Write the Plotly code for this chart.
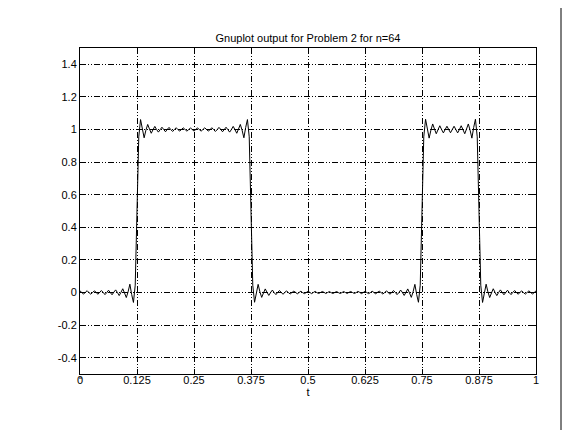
import numpy as np
import plotly.graph_objects as go

# sample grid: 257 samples over [0, 1]
t = np.linspace(0.0, 1.0, 257)

# values, segment by segment
seg_a = [0.010, 0.000, -0.010, 0.001, 0.011, 0.000, -0.010, -0.001, 0.010, 0.002,
         -0.011, 0.000, 0.012, 0.001, -0.013, -0.001, 0.014, 0.000, -0.014, 0.002,
         0.016, 0.000, -0.019, 0.001, 0.023, -0.003, -0.031, 0.004, 0.051, -0.012,
         -0.061, 0.045]
jump1 = [0.500]
seg_b = [0.955, 1.061, 1.012, 0.949, 0.996, 1.031, 1.003, 0.977, 0.999, 1.019,
         1.000, 0.984, 0.999, 1.014, 1.000, 0.986, 1.001, 1.013, 0.999, 0.988,
         1.000, 1.011, 0.999, 0.990, 1.001, 1.010, 1.000, 0.990, 0.999, 1.010,
         1.000, 0.990, 1.000, 1.010, 0.999, 0.990, 1.000, 1.010, 1.001, 0.990,
         0.999, 1.011, 1.000, 0.988, 0.999, 1.013, 1.001, 0.986, 1.000, 1.014,
         0.999, 0.984, 1.000, 1.019, 0.999, 0.977, 1.003, 1.031, 0.996, 0.949,
         1.012, 1.061, 0.955]
jump2 = [0.500]
seg_c = [0.045, -0.060, -0.012, 0.050, 0.004, -0.030, -0.003, 0.022, 0.001, -0.018,
         0.000, 0.015, -0.001, -0.013, 0.001, 0.012, 0.000, -0.011, 0.001, 0.010,
         -0.001, -0.009, 0.000, 0.008, 0.001, -0.008, 0.000, 0.008, -0.001, -0.007,
         0.000, 0.007, 0.001, -0.007, 0.000, 0.007, -0.001, -0.006, 0.000, 0.006,
         0.001, -0.006, 0.000, 0.006, -0.001, -0.006, 0.000, 0.006, 0.000, -0.006,
         -0.001, 0.006, 0.000, -0.006, 0.001, 0.006, 0.000, -0.006, -0.001, 0.007,
         0.001, -0.007, 0.000, 0.007, 0.000, -0.007, -0.001, 0.008, 0.000, -0.008,
         0.001, 0.008, 0.000, -0.009, -0.001, 0.010, 0.001, -0.011, 0.000, 0.012,
         0.001, -0.013, -0.001, 0.015, 0.000, -0.018, 0.001, 0.022, -0.003, -0.030,
         0.004, 0.050, -0.012, -0.060, 0.045]
jump3 = [0.500]
seg_d = [0.955, 1.063, 1.012, 0.947, 0.996, 1.034, 1.003, 0.974, 0.999, 1.023,
         1.000, 0.979, 1.000, 1.020, 1.000, 0.980, 1.000, 1.020, 1.000, 0.979,
         1.000, 1.023, 0.999, 0.974, 1.003, 1.034, 0.996, 0.947, 1.012, 1.063,
         0.955]
jump4 = [0.500]
seg_e = [0.045, -0.061, -0.012, 0.051, 0.004, -0.031, -0.003, 0.023, 0.001, -0.019,
         0.000, 0.016, 0.001, -0.014, 0.000, 0.014, -0.001, -0.013, 0.001, 0.012,
         0.000, -0.011, 0.001, 0.010, -0.001, -0.010, 0.000, 0.010, 0.001, -0.010,
         0.000, 0.010]

y = seg_a + jump1 + seg_b + jump2 + seg_c + jump3 + seg_d + jump4 + seg_e

x_tickvals = [0, 0.125, 0.25, 0.375, 0.5, 0.625, 0.75, 0.875, 1]
x_ticktext = ["0", "0.125", "0.25", "0.375", "0.5", "0.625", "0.75", "0.875", "1"]
y_tickvals = [-0.4, -0.2, 0, 0.2, 0.4, 0.6, 0.8, 1.0, 1.2, 1.4]
y_ticktext = ["-0.4", "-0.2", "0", "0.2", "0.4", "0.6", "0.8", "1", "1.2", "1.4"]

FONT = "Liberation Sans, Arial, sans-serif"
DASH = "6px,2px,1px,2px,1px,2px"

fig = go.Figure()
fig.add_trace(go.Scatter(x=t, y=y, mode="lines",
                         line=dict(color="black", width=1), hoverinfo="skip"))

axis_common = dict(
    showgrid=True, gridcolor="black", gridwidth=1, griddash=DASH,
    ticks="inside", ticklen=5, tickcolor="black", tickwidth=1,
    showline=True, linecolor="black", linewidth=1, mirror="ticks",
    zeroline=False, tickfont=dict(family=FONT, size=11, color="black"),
)

# page has an 8px body margin: figure is placed at (8, 8); keep it inside the
# window so that no scrollbar appears
W, H = 562, 422
fig.update_layout(
    width=W, height=H,
    margin=dict(l=72, r=34, t=40, b=56),
    paper_bgcolor="white", plot_bgcolor="white",
    showlegend=False,
    title=dict(text="Gnuplot output for Problem 2 for n=64",
               font=dict(family=FONT, size=11, color="black"),
               x=300 / W, xanchor="center", y=1 - 30 / H, yanchor="middle"),
    xaxis=dict(range=[0, 1], tickvals=x_tickvals, ticktext=x_ticktext,
               ticklabelstandoff=-4,
               title=dict(text="t", font=dict(family=FONT, size=11, color="black"),
                          standoff=0),
               **axis_common),
    yaxis=dict(range=[-0.5, 1.5], tickvals=y_tickvals, ticktext=y_ticktext,
               **axis_common),
)

# frame artifacts of the original window (right border line, small corner dash)
fig.add_shape(type="line", xref="paper", yref="paper",
              x0=(561 - 80) / 456, x1=(561 - 80) / 456,
              y0=(374 - 440) / 326, y1=(374 - 0) / 326,
              line=dict(color="black", width=1), layer="above")
fig.add_shape(type="line", xref="paper", yref="paper",
              x0=-1 / 456, x1=2 / 456,
              y0=(374 - 378) / 326, y1=(374 - 378) / 326,
              line=dict(color="black", width=1), layer="above")

fig.write_html("out.html")
